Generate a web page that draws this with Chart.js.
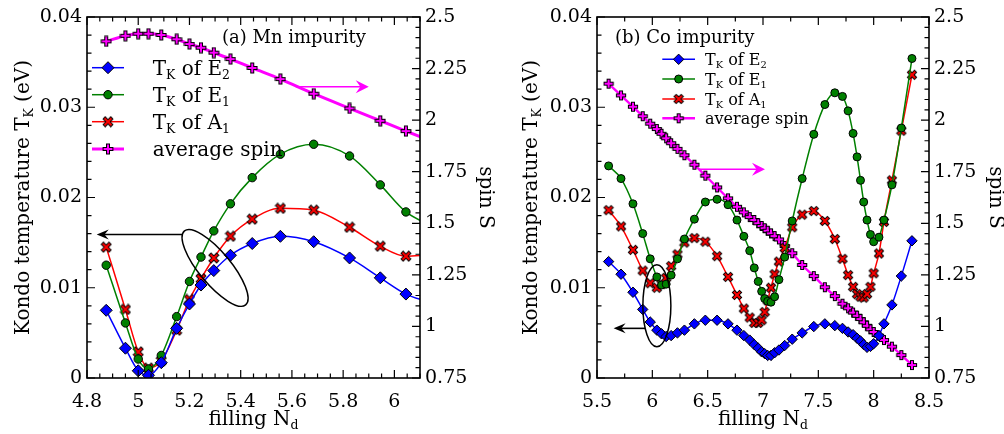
<!DOCTYPE html>
<html>
<head>
<meta charset="utf-8">
<title>Kondo temperature and average spin vs filling</title>
<script src="https://cdn.jsdelivr.net/npm/chart.js@4.4.1/dist/chart.umd.min.js"></script>
<style>
  body { margin: 0; background: #fff; }
  #figure { position: relative; width: 1004px; height: 434px; }
  #figure canvas { position: absolute; top: 0; }
  #mnChart { left: 0; }
  #coChart { left: 500px; }
</style>
</head>
<body>
<div id="figure">
  <canvas id="mnChart" width="500" height="434" style="width:500px;height:434px"></canvas>
  <canvas id="coChart" width="504" height="434" style="width:504px;height:434px"></canvas>
</div>
<script>
const SERIF = '"DejaVu Serif", serif';

// (a) Mn impurity
const mnFilling = [4.875, 4.95, 5.0, 5.04, 5.09, 5.15, 5.2, 5.245, 5.295, 5.36, 5.445, 5.555, 5.685, 5.825, 5.945, 6.045, 6.15];
const mnTkE2 = [0.0075, 0.0033, 0.0008, 0.0003, 0.0017, 0.0055, 0.0082, 0.0103, 0.0119, 0.0136, 0.0149, 0.0157, 0.0151, 0.0133, 0.0111, 0.0093, 0.0083];
const mnTkE1 = [0.0125, 0.0061, 0.0021, 0.0010, 0.0025, 0.0068, 0.0107, 0.0134, 0.0163, 0.0193, 0.0222, 0.0248, 0.0259, 0.0246, 0.0214, 0.0184, 0.0168];
const mnTkA1 = [0.0145, 0.0076, 0.0029, 0.0011, 0.0019, 0.0053, 0.0087, 0.0110, 0.0133, 0.0157, 0.0176, 0.0188, 0.0186, 0.0167, 0.0146, 0.0135, 0.0137];
const mnSpin = [2.382, 2.409, 2.419, 2.419, 2.413, 2.392, 2.369, 2.351, 2.327, 2.296, 2.253, 2.199, 2.128, 2.057, 1.997, 1.947, 1.895];

// (b) Co impurity
const coFilling = [5.605, 5.717, 5.825, 5.913, 5.981, 6.041, 6.083, 6.125, 6.17, 6.227,
  6.29, 6.38, 6.479, 6.585, 6.684, 6.765, 6.827, 6.88, 6.921, 6.957,
  6.988, 7.015, 7.042, 7.072, 7.105, 7.144, 7.196, 7.264, 7.354, 7.459,
  7.559, 7.649, 7.718, 7.769, 7.814, 7.85, 7.881, 7.91, 7.94, 7.971,
  8.0, 8.048, 8.093, 8.165, 8.25, 8.346];
const coTkE2 = [0.0129, 0.0115, 0.0095, 0.0076, 0.0062, 0.0053, 0.0049, 0.0046, 0.0047, 0.0050,
  0.0053, 0.0060, 0.0064, 0.0064, 0.0060, 0.0053, 0.0047, 0.0042, 0.0037, 0.0033,
  0.0029, 0.0027, 0.0025, 0.0025, 0.0028, 0.0031, 0.0036, 0.0043, 0.0050, 0.0057,
  0.0060, 0.0058, 0.0055, 0.0051, 0.0048, 0.0044, 0.0041, 0.0037, 0.0034, 0.0035,
  0.0038, 0.0047, 0.0060, 0.0081, 0.0113, 0.0152];
const coTkE1 = [0.0235, 0.0221, 0.0193, 0.0160, 0.0132, 0.0112, 0.0103, 0.0104, 0.0114, 0.0132,
  0.0154, 0.0176, 0.0195, 0.0198, 0.0192, 0.0175, 0.0157, 0.0141, 0.0122, 0.0107,
  0.0096, 0.0088, 0.0085, 0.0084, 0.0090, 0.0109, 0.0134, 0.0174, 0.0221, 0.0270,
  0.0303, 0.0316, 0.0312, 0.0296, 0.0271, 0.0245, 0.0219, 0.0195, 0.0175, 0.0159,
  0.0151, 0.0156, 0.0175, 0.0214, 0.0277, 0.0354];
const coTkA1 = [0.0186, 0.0168, 0.0142, 0.0119, 0.0105, 0.0100, 0.0104, 0.0111, 0.0124, 0.0137,
  0.0150, 0.0155, 0.0151, 0.0135, 0.0112, 0.0092, 0.0077, 0.0067, 0.0061, 0.0061,
  0.0064, 0.0073, 0.0086, 0.0100, 0.0115, 0.0129, 0.0144, 0.0167, 0.0181, 0.0185,
  0.0174, 0.0154, 0.0132, 0.0114, 0.0101, 0.0093, 0.0090, 0.0089, 0.0093, 0.0101,
  0.0116, 0.0138, 0.0173, 0.0219, 0.0274, 0.0336];
const coSpin = [2.177, 2.120, 2.065, 2.019, 1.983, 1.957, 1.934, 1.912, 1.888, 1.861,
  1.830, 1.784, 1.731, 1.674, 1.621, 1.580, 1.553, 1.530, 1.516, 1.500,
  1.487, 1.476, 1.464, 1.451, 1.438, 1.422, 1.390, 1.355, 1.298, 1.244,
  1.190, 1.147, 1.110, 1.088, 1.067, 1.052, 1.036, 1.020, 1.003, 0.986,
  0.973, 0.955, 0.934, 0.902, 0.861, 0.813];

// labelled ticks
const tkTicks = [0, 0.01, 0.02, 0.03, 0.04];
const spinTicks = [0.75, 1, 1.25, 1.5, 1.75, 2, 2.25, 2.5];
const mnFillTicks = [4.8, 5, 5.2, 5.4, 5.6, 5.8, 6];
const coFillTicks = [5.5, 6, 6.5, 7, 7.5, 8, 8.5];

// legend text, second item of a part = subscript
const keyLabels = [
  [['T'], ['K', 1], [' of E'], ['2', 1]],
  [['T'], ['K', 1], [' of E'], ['1', 1]],
  [['T'], ['K', 1], [' of A'], ['1', 1]],
  [['average spin']]
];
const tkTitle = [['Kondo temperature T'], ['K', 1], [' (eV)']];
const spinTitle = [['spin S']];
const fillTitle = [['filling N'], ['d', 1]];

const BLUE = '#0000ff', GREEN = '#008000', RED = '#ff0000', MAGENTA = '#ff00ff';

// bold X / plus markers with a black rim
function rimMark(fill, plus, a) {
  const c = document.createElement('canvas');
  c.width = c.height = 12;
  const g = c.getContext('2d');
  g.translate(6, 6);
  const path = () => {
    g.beginPath();
    if (plus) { g.moveTo(-a, 0); g.lineTo(a, 0); g.moveTo(0, -a); g.lineTo(0, a); }
    else { g.moveTo(-a, -a); g.lineTo(a, a); g.moveTo(-a, a); g.lineTo(a, -a); }
    g.stroke();
  };
  g.lineCap = 'square';
  g.strokeStyle = '#000'; g.lineWidth = 4; path();
  g.strokeStyle = fill; g.lineWidth = 2; path();
  return c;
}

function series(label, xs, ys, color, style, radius, width, axisId) {
  return {
    label,
    data: xs.map((x, i) => ({ x, y: ys[i] })),
    yAxisID: axisId,
    borderColor: color,
    backgroundColor: color,
    borderWidth: width,
    pointStyle: style,
    pointRadius: radius,
    pointBackgroundColor: color,
    pointBorderColor: '#000',
    pointBorderWidth: 1,
    cubicInterpolationMode: 'monotone'
  };
}

function minorTicks(min, max, step) {
  const out = [];
  for (let i = 0; min + i * step <= max + 1e-9; i++) out.push(+(min + i * step).toFixed(6));
  return out;
}

function axis(position, min, max, step, majors, size, pad) {
  return {
    type: 'linear', position, min, max,
    afterBuildTicks: s => { s.ticks = minorTicks(min, max, step).map(value => ({ value })); },
    afterFit: s => { if (position === 'bottom') s.height = size; else s.width = size; },
    grid: { display: false, drawTicks: false },
    border: { display: false },
    ticks: {
      autoSkip: false, maxRotation: 0, padding: pad, color: '#000',
      font: { family: SERIF, size: 19 },
      callback: v => {
        const m = majors.find(t => Math.abs(t - v) < 1e-6);
        return m === undefined ? '' : String(m);
      }
    }
  };
}

// text with subscripts, starting at x (or centred on it)
function richText(ctx, parts, x, y, size, centre) {
  const sub = size * 0.62;
  const widths = parts.map(p => {
    ctx.font = (p[1] ? sub : size) + 'px ' + SERIF;
    return ctx.measureText(p[0]).width;
  });
  let cx = centre ? x - widths.reduce((a, b) => a + b, 0) / 2 : x;
  parts.forEach((p, i) => {
    ctx.font = (p[1] ? sub : size) + 'px ' + SERIF;
    ctx.fillText(p[0], cx, y + (p[1] ? size * 0.2 : 0));
    cx += widths[i];
  });
}

function arrow(ctx, x0, y0, x1, y1, color, lw, len, half) {
  const ang = Math.atan2(y1 - y0, x1 - x0);
  ctx.save();
  ctx.strokeStyle = color; ctx.fillStyle = color; ctx.lineWidth = lw;
  ctx.beginPath();
  ctx.moveTo(x0, y0);
  ctx.lineTo(x1 - Math.cos(ang) * len * 0.6, y1 - Math.sin(ang) * len * 0.6);
  ctx.stroke();
  ctx.translate(x1, y1);
  ctx.rotate(ang);
  ctx.beginPath();
  ctx.moveTo(0, 0);
  ctx.lineTo(-len, -half);
  ctx.lineTo(-len * 0.65, 0);
  ctx.lineTo(-len, half);
  ctx.closePath();
  ctx.fill();
  ctx.restore();
}

// box frame with inward ticks on all four sides
const framePlugin = {
  id: 'frame',
  afterDraw(chart) {
    const { ctx, chartArea: a, scales } = chart;
    ctx.save();
    ctx.strokeStyle = '#000';
    ctx.lineWidth = 1.2;
    ctx.beginPath();
    scales.x.ticks.forEach(t => {
      const p = scales.x.getPixelForValue(t.value), len = t.label ? 8 : 4.5;
      ctx.moveTo(p, a.bottom); ctx.lineTo(p, a.bottom - len);
      ctx.moveTo(p, a.top); ctx.lineTo(p, a.top + len);
    });
    scales.y.ticks.forEach(t => {
      const p = scales.y.getPixelForValue(t.value), len = t.label ? 8 : 4.5;
      ctx.moveTo(a.left, p); ctx.lineTo(a.left + len, p);
    });
    scales.y2.ticks.forEach(t => {
      const p = scales.y2.getPixelForValue(t.value), len = t.label ? 8 : 4.5;
      ctx.moveTo(a.right, p); ctx.lineTo(a.right - len, p);
    });
    ctx.stroke();
    ctx.lineWidth = 1.6;
    ctx.strokeRect(a.left, a.top, a.right - a.left, a.bottom - a.top);
    ctx.restore();
  }
};

// panel tag, legend, arrows, ellipse and axis titles
function decor(cfg) {
  return {
    id: 'decor',
    afterDraw(chart) {
      const { ctx, chartArea: a, scales } = chart;
      const { x, y, y2 } = scales;
      ctx.save();
      ctx.fillStyle = '#000';
      ctx.textBaseline = 'alphabetic';

      richText(ctx, [[cfg.tag]], cfg.tagX, 43, 18, false);

      const k = cfg.key;
      chart.data.datasets.forEach((ds, i) => {
        const ry = k.rows[i];
        ctx.strokeStyle = ds.borderColor;
        ctx.lineWidth = ds.borderWidth;
        ctx.beginPath(); ctx.moveTo(k.x0, ry); ctx.lineTo(k.x1, ry); ctx.stroke();
        ctx.fillStyle = ds.pointBackgroundColor;
        ctx.strokeStyle = '#000';
        ctx.lineWidth = 1;
        Chart.helpers.drawPoint(ctx, { pointStyle: ds.pointStyle, radius: ds.pointRadius, borderWidth: 1, rotation: 0 },
          (k.x0 + k.x1) / 2, ry);
        ctx.fillStyle = '#000';
        richText(ctx, keyLabels[i], k.textX, ry + k.size * 0.36, k.size, false);
      });

      const sa = cfg.spinArrow;
      arrow(ctx, x.getPixelForValue(sa[0]), y2.getPixelForValue(sa[2]),
        x.getPixelForValue(sa[1]), y2.getPixelForValue(sa[2]), MAGENTA, 1.6, 13, 6.5);
      const ta = cfg.tkArrow;
      arrow(ctx, x.getPixelForValue(ta[0]), y.getPixelForValue(ta[2]),
        x.getPixelForValue(ta[1]), y.getPixelForValue(ta[2]), '#000', 1.6, 12, 5);

      const e = cfg.ellipse;
      ctx.strokeStyle = '#000';
      ctx.lineWidth = 1.5;
      ctx.beginPath();
      ctx.ellipse(x.getPixelForValue(e.x), y.getPixelForValue(e.y), e.rx, e.ry, e.rot, 0, Math.PI * 2);
      ctx.stroke();

      ctx.fillStyle = '#000';
      richText(ctx, fillTitle, (a.left + a.right) / 2, 425, 20, true);

      ctx.save();
      ctx.translate(cfg.leftTitleX, (a.top + a.bottom) / 2);
      ctx.rotate(-Math.PI / 2);
      richText(ctx, tkTitle, 0, 0, 20, true);
      ctx.restore();

      ctx.save();
      ctx.translate(cfg.rightTitleX, (a.top + a.bottom) / 2);
      ctx.rotate(Math.PI / 2);
      richText(ctx, spinTitle, 0, 0, 20, true);
      ctx.restore();

      ctx.restore();
    }
  };
}

function panel(canvasId, fill, e2, e1, a1, spin, xr, sizes, cfg) {
  const big = sizes.big;
  return new Chart(document.getElementById(canvasId), {
    type: 'line',
    data: {
      datasets: [
        series('TK of E2', fill, e2, BLUE, 'rectRot', big ? 6 : 5.2, 1.5, 'y'),
        series('TK of E1', fill, e1, GREEN, 'circle', big ? 4.2 : 4, 1.5, 'y'),
        series('TK of A1', fill, a1, RED, rimMark(RED, false, big ? 2.8 : 2.5), 4, 1.5, 'y'),
        series('average spin', fill, spin, MAGENTA, rimMark(MAGENTA, true, big ? 3.4 : 3.1), 4, big ? 3 : 2.4, 'y2')
      ]
    },
    options: {
      responsive: false,
      animation: false,
      events: [],
      layout: { padding: { top: 17, left: 0, right: 0, bottom: 0 } },
      plugins: { legend: { display: false }, tooltip: { enabled: false } },
      scales: {
        x: axis('bottom', xr.min, xr.max, xr.step, xr.majors, 56, 13),
        y: axis('left', 0, 0.04, 0.002, tkTicks, sizes.left, 5),
        y2: axis('right', 0.75, 2.5, 0.05, spinTicks, sizes.right, 5)
      }
    },
    plugins: [framePlugin, decor(cfg)]
  });
}

panel('mnChart', mnFilling, mnTkE2, mnTkE1, mnTkA1, mnSpin,
  { min: 4.8, max: 6.1, step: 0.05, majors: mnFillTicks },
  { big: true, left: 87, right: 80 },
  {
    tag: '(a) Mn impurity', tagX: 222,
    key: { x0: 92, x1: 124, rows: [67.7, 94.7, 121.7, 149], textX: 152.7, size: 20 },
    spinArrow: [5.615, 5.9, 2.162],
    tkArrow: [5.171, 4.838, 0.0159],
    ellipse: { x: 5.3, y: 0.0122, rx: 48, ry: 16, rot: 0.88 },
    leftTitleX: 29, rightTitleX: 480
  });

panel('coChart', coFilling, coTkE2, coTkE1, coTkA1, coSpin,
  { min: 5.5, max: 8.5, step: 0.25, majors: coFillTicks },
  { big: false, left: 97, right: 75 },
  {
    tag: '(b) Co impurity', tagX: 115,
    key: { x0: 162.3, x1: 195, rows: [59.3, 79, 99, 118.3], textX: 205, size: 16 },
    spinArrow: [6.416, 7.018, 1.762],
    tkArrow: [5.936, 5.65, 0.0055],
    ellipse: { x: 6.041, y: 0.0080, rx: 14, ry: 41, rot: 0 },
    leftTitleX: 37, rightTitleX: 490
  });
</script>
</body>
</html>
